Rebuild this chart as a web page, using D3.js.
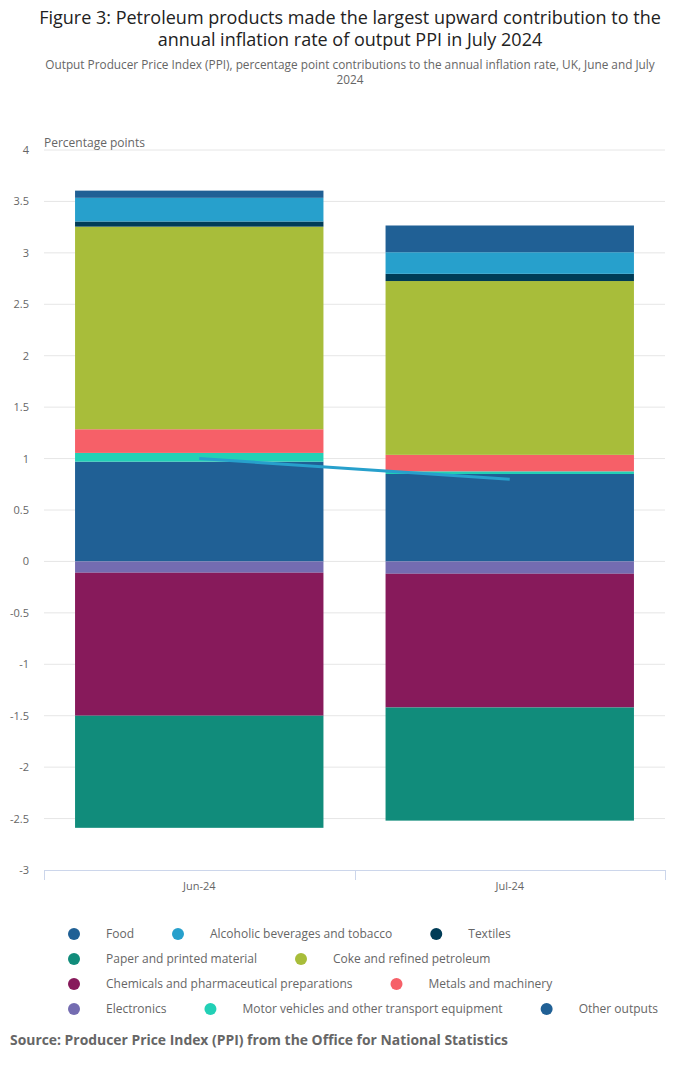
<!DOCTYPE html>
<html>
<head>
<meta charset="utf-8">
<script src="https://cdn.jsdelivr.net/npm/d3@7"></script>
<style>
  body { margin: 0; background: #fff; font-family: "Open Sans", sans-serif; }
  svg text { font-family: "Open Sans", sans-serif; }
</style>
</head>
<body>
<div id="chart"></div>
<script>
// categories and series (legend order)
var months = ["Jun-24", "Jul-24"];
var seriesNames = ["Food", "Alcoholic beverages and tobacco", "Textiles", "Paper and printed material",
  "Coke and refined petroleum", "Chemicals and pharmaceutical preparations", "Metals and machinery",
  "Electronics", "Motor vehicles and other transport equipment", "Other outputs"];
var seriesColors = ["#206095", "#27a0cc", "#003c57", "#118c7b", "#a8bd3a", "#871a5b",
  "#f66068", "#746cb1", "#22d0b6", "#206095"];
var food = [0.07, 0.26];
var alcohol = [0.23, 0.21];
var textiles = [0.05, 0.07];
var paper = [-1.09, -1.10];
var coke = [1.97, 1.69];
var chemicals = [-1.39, -1.30];
var metals = [0.23, 0.16];
var electronics = [-0.11, -0.12];
var motor = [0.085, 0.026];
var other = [0.97, 0.85];
var ppiRate = [1.0, 0.8];
var yTicks = [4, 3.5, 3, 2.5, 2, 1.5, 1, 0.5, 0, -0.5, -1, -1.5, -2, -2.5, -3];

var seriesValues = [food, alcohol, textiles, paper, coke, chemicals, metals, electronics, motor, other];

var W = 700, H = 1067;
var svg = d3.select("#chart").append("svg").attr("width", W).attr("height", H);

// titles
svg.append("text").attr("x", 350).attr("y", 24).attr("text-anchor", "middle")
  .attr("fill", "#222").style("font-size", "18px")
  .text("Figure 3: Petroleum products made the largest upward contribution to the");
svg.append("text").attr("x", 350).attr("y", 46).attr("text-anchor", "middle")
  .attr("fill", "#222").style("font-size", "18px")
  .text("annual inflation rate of output PPI in July 2024");

svg.append("text").attr("x", 350).attr("y", 69).attr("text-anchor", "middle")
  .attr("fill", "#666").style("font-size", "11.8px")
  .text("Output Producer Price Index (PPI), percentage point contributions to the annual inflation rate, UK, June and July");
svg.append("text").attr("x", 350).attr("y", 84).attr("text-anchor", "middle")
  .attr("fill", "#666").style("font-size", "11.8px").text("2024");

// scales
var x = d3.scaleBand().domain(months).range([44, 665]).paddingInner(0.2).paddingOuter(0.1);
var y = d3.scaleLinear().domain([-3, 4]).range([870, 150]);

// gridlines
svg.append("g").selectAll("line").data(yTicks.filter(function(d){ return d !== -3; }))
  .enter().append("line")
  .attr("x1", 44).attr("x2", 665)
  .attr("y1", function(d){ return y(d); }).attr("y2", function(d){ return y(d); })
  .attr("stroke", "#e6e6e6").attr("stroke-width", 1);

// y labels
svg.append("g").selectAll("text").data(yTicks).enter().append("text")
  .attr("x", 29).attr("y", function(d){ return y(d) + 4; })
  .attr("text-anchor", "end").attr("fill", "#666").style("font-size", "11px")
  .text(function(d){ return d; });

svg.append("text").attr("x", 44).attr("y", 147).attr("fill", "#666").style("font-size", "12px")
  .text("Percentage points");

// stacked data: last series nearest zero (Highcharts reversed stacking)
var rects = [];
months.forEach(function(m, i) {
  var pos = 0, neg = 0;
  for (var s = seriesValues.length - 1; s >= 0; s--) {
    var v = seriesValues[s][i];
    if (v >= 0) { rects.push({ m: m, s: s, y0: pos, y1: pos + v }); pos += v; }
    else { rects.push({ m: m, s: s, y0: neg + v, y1: neg }); neg += v; }
  }
});

svg.append("g").selectAll("rect").data(rects).enter().append("rect")
  .attr("x", function(d){ return x(d.m); })
  .attr("width", x.bandwidth())
  .attr("y", function(d){ return y(d.y1); })
  .attr("height", function(d){ return y(d.y0) - y(d.y1); })
  .attr("fill", function(d){ return seriesColors[d.s]; });

// line
var line = d3.line()
  .x(function(d, i){ return x(months[i]) + x.bandwidth() / 2; })
  .y(function(d){ return y(d); });
svg.append("path").datum(ppiRate).attr("d", line)
  .attr("fill", "none").attr("stroke", "#27a0cc").attr("stroke-width", 3);

// x axis
var xAxis = svg.append("g");
xAxis.append("line").attr("x1", 44).attr("x2", 665).attr("y1", 870.5).attr("y2", 870.5)
  .attr("stroke", "#ccd6eb");
var tickXs = [44, (44 + 665) / 2, 665];
xAxis.selectAll("line.tick").data(tickXs).enter().append("line").attr("class", "tick")
  .attr("x1", function(d){ return Math.round(d) + 0.5; }).attr("x2", function(d){ return Math.round(d) + 0.5; })
  .attr("y1", 870).attr("y2", 880).attr("stroke", "#ccd6eb");
xAxis.selectAll("text").data(months).enter().append("text")
  .attr("x", function(d){ return x(d) + x.bandwidth() / 2; })
  .attr("y", 890).attr("text-anchor", "middle").attr("fill", "#666").style("font-size", "11px")
  .text(function(d){ return d; });

// legend
var legend = svg.append("g");
var lx = 74, ly = 934, maxX = 680;
seriesNames.forEach(function(name, i) {
  var g = legend.append("g");
  var t = g.append("text").attr("fill", "#666").style("font-size", "12px").text(name);
  var w = t.node().getComputedTextLength();
  if (lx + 32 + w > maxX) { lx = 74; ly += 25; }
  g.append("circle").attr("cx", lx).attr("cy", ly).attr("r", 6).attr("fill", seriesColors[i]);
  t.attr("x", lx + 32).attr("y", ly + 4);
  lx = lx + 32 + w + 44;
});

// source
svg.append("text").attr("x", 10).attr("y", 1045).attr("fill", "#666")
  .style("font-size", "13.9px").style("font-weight", "bold")
  .text("Source: Producer Price Index (PPI) from the Office for National Statistics");
</script>
</body>
</html>
